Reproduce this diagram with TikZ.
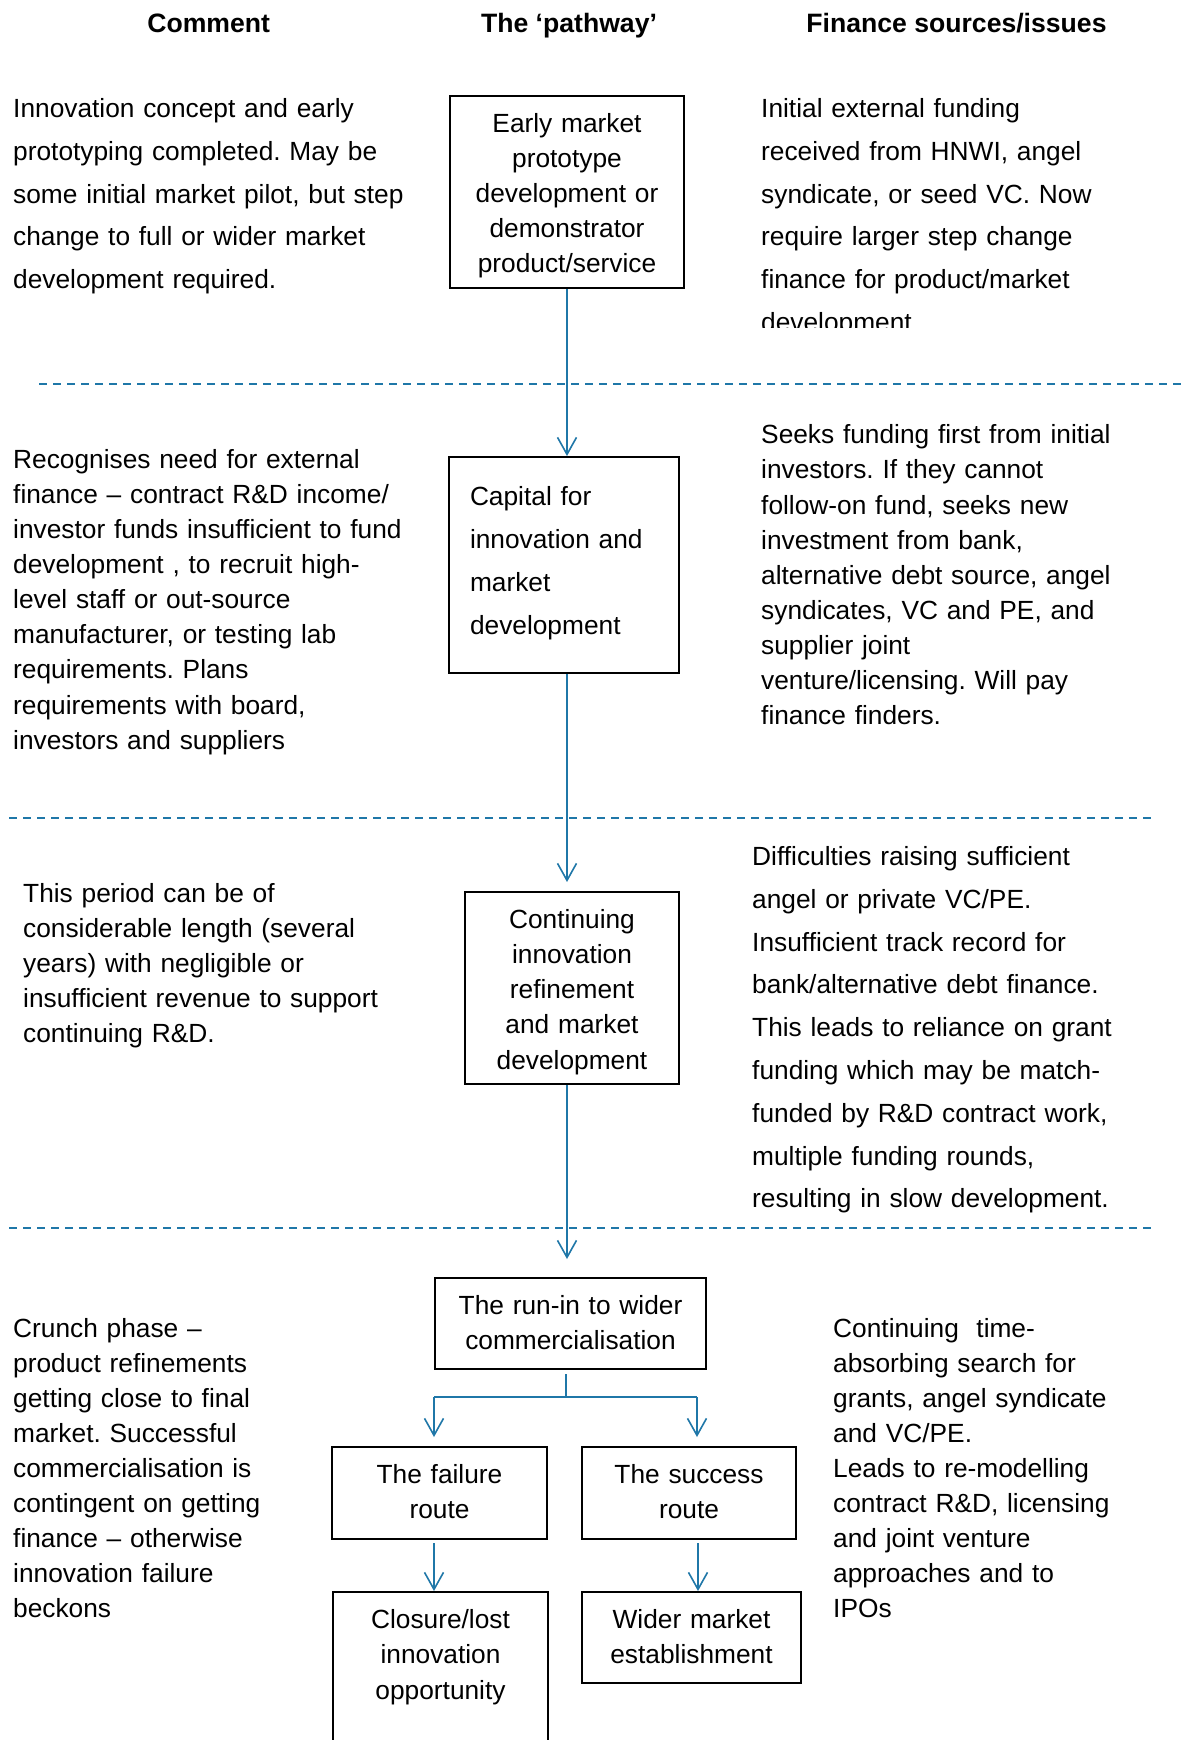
\documentclass[tikz,border=0pt]{standalone}
\usepackage{fontspec}
\setmainfont{Liberation Sans}
\usetikzlibrary{arrows.meta}
\definecolor{lineblue}{RGB}{31,119,168}
\frenchspacing

\begin{document}
\begin{tikzpicture}[x=1pt, y=-1pt,
  sp35/.style={font=\fontsize{26.3}{35.1}\selectfont},
  sp43/.style={font=\fontsize{26.3}{42.8}\selectfont},
  header/.style={anchor=base, inner sep=0pt, font=\fontsize{26.6}{32}\selectfont\bfseries},
  para/.style={anchor=base west, inner sep=0pt, align=left, text width=420pt},
  stage/.style={draw=black, line width=2pt, anchor=north west, inner xsep=0pt, inner ysep=0pt, align=center},
  flow/.style={draw=lineblue, line width=1.6pt, -{Straight Barb[length=17pt, width=19pt]}},
  branch/.style={draw=lineblue, line width=1.6pt},
  divider/.style={draw=lineblue, line width=2pt, dash pattern=on 8pt off 6pt}
]
\clip (0,0) rectangle (1185,1740);
\fill[white] (0,0) rectangle (1185,1740);

% column headings
\node[header] (hdr-comment) at (208.7,32) {Comment};
\node[header] (hdr-pathway) at (569,32) {The ‘pathway’};
\node[header] (hdr-finance) at (956.5,32) {Finance sources/issues};

% section dividers
\draw[divider] (39,384) -- (1181,384);
\draw[divider] (9,818) -- (1151,818);
\draw[divider] (9,1228) -- (1151,1228);

% stage 1
\node[para, sp43] (c1) at (13,117.5) {Innovation concept and early\\
prototyping completed. May be\\
some initial market pilot, but step\\
change to full or wider market\\
development required.};
\begin{scope}
  \clip (700,0) rectangle (1185,327);
  \node[para, sp43] (f1) at (761,117.5) {Initial external funding\\
  received from HNWI, angel\\
  syndicate, or seed VC. Now\\
  require larger step change\\
  finance for product/market\\
  development};
\end{scope}
\node[stage, sp35, text width=234pt, text height=36pt, text depth=156pt] (p1) at (449,95)
  {Early market\\prototype\\development or\\demonstrator\\product/service};

% stage 2
\node[para, sp35] (c2) at (13,468.3) {Recognises need for external\\
finance – contract R\&D income/\\
investor funds insufficient to fund\\
development , to recruit high-\\
level staff or out-source\\
manufacturer, or testing lab\\
requirements. Plans\\
requirements with board,\\
investors and suppliers};
\node[para, sp35] (f2) at (761,443.8) {Seeks funding first from initial\\
investors. If they cannot\\
follow-on fund, seeks new\\
investment from bank,\\
alternative debt source, angel\\
syndicates, VC and PE, and\\
supplier joint\\
venture/licensing. Will pay\\
finance finders.};
\node[stage, sp43, align=left, inner xsep=21pt, text width=188pt, text height=48.9pt, text depth=167.1pt] (p2) at (448,456)
  {Capital for\\innovation and\\market\\development};

% stage 3
\node[para, sp35] (c3) at (23,902.1) {This period can be of\\
considerable length (several\\
years) with negligible or\\
insufficient revenue to support\\
continuing R\&D.};
\node[para, sp43] (f3) at (752,865.5) {Difficulties raising sufficient\\
angel or private VC/PE.\\
Insufficient track record for\\
bank/alternative debt finance.\\
This leads to reliance on grant\\
funding which may be match-\\
funded by R\&D contract work,\\
multiple funding rounds,\\
resulting in slow development.};
\node[stage, sp35, text width=214pt, text height=36.6pt, text depth=155.4pt] (p3) at (464,891)
  {Continuing\\innovation\\refinement\\and market\\development};

% stage 4
\node[para, sp35] (c4) at (13,1337) {Crunch phase –\\
product refinements\\
getting close to final\\
market. Successful\\
commercialisation is\\
contingent on getting\\
finance – otherwise\\
innovation failure\\
beckons};
\node[para, sp35] (f4) at (833,1337) {Continuing\ \ time-\\
absorbing search for\\
grants, angel syndicate\\
and VC/PE.\\
Leads to re-modelling\\
contract R\&D, licensing\\
and joint venture\\
approaches and to\\
IPOs};
\node[stage, sp35, text width=271pt, text height=36.8pt, text depth=54.2pt] (p4) at (434,1277)
  {The run-in to wider\\commercialisation};

% outcome routes
\node[stage, sp35, text width=215pt, text height=36.4pt, text depth=55.6pt] (fail) at (331,1446)
  {The failure\\route};
\node[stage, sp35, text width=214pt, text height=36.4pt, text depth=55.6pt] (succ) at (581,1446)
  {The success\\route};
\node[stage, sp35, text width=215pt, text height=36.8pt, text depth=140pt] (closure) at (332,1591)
  {Closure/lost\\innovation\\opportunity};
\node[stage, sp35, text width=219pt, text height=36.8pt, text depth=54.2pt] (wider) at (581,1591)
  {Wider market\\establishment};

% main pathway connectors
\draw[flow] (p1.south) -- (p1.south |- p2.north);
\coordinate (tip3) at (567,882);
\draw[flow] (p2.south -| tip3) -- (tip3);
\coordinate (tip4) at (567,1259);
\draw[flow] (p3.south -| tip4) -- (tip4);

% split into failure and success routes
\coordinate (split-top) at (566,1374);
\coordinate (split) at (566,1398);
\coordinate (split-l) at (434,1397);
\coordinate (split-r) at (697,1397);
\coordinate (tip-fail) at (434,1437);
\coordinate (tip-succ) at (697,1437);
\draw[branch] (split-top) -- (split);
\draw[branch] (split-l) -- (split-r);
\draw[flow] (split-l) -- (tip-fail);
\draw[flow] (split-r) -- (tip-succ);

% route outcomes
\coordinate (fail-out) at (434,1543);
\coordinate (succ-out) at (698,1543);
\draw[flow] (fail-out) -- (fail-out |- closure.north);
\draw[flow] (succ-out) -- (succ-out |- wider.north);
\end{tikzpicture}
\end{document}
